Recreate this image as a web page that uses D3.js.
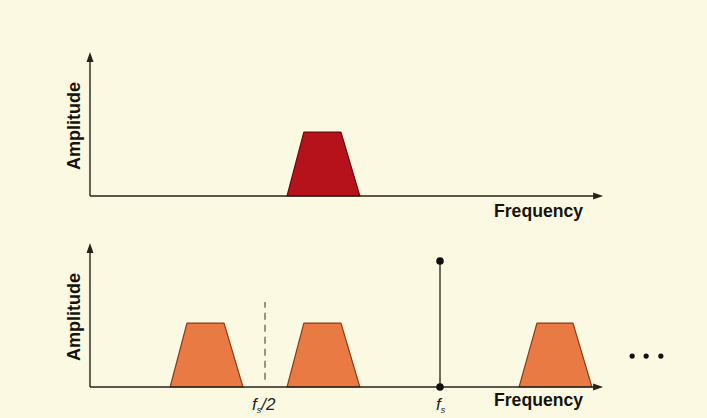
<!DOCTYPE html>
<html><head><meta charset="utf-8">
<script src="https://cdn.jsdelivr.net/npm/d3@7"></script>
<style>html,body{margin:0;padding:0;background:#fcf9e2;}svg{display:block;}</style>
</head><body><svg id="c" width="707" height="418"></svg>
<script>
// ---- data (frequency in units of fs, amplitude normalised 0..1) ----
const axisLabels = ["Amplitude", "Frequency"];
const tickLabels = ["f_s/2", "f_s"];
const tickFreqs = [0.5, 1.0];
// trapezoid bands: [bottom-left, top-left, top-right, bottom-right]
const originalBand = [0.563, 0.611, 0.717, 0.771];
const sampledBands = [
  [0.229, 0.277, 0.383, 0.437],
  [0.563, 0.611, 0.717, 0.771],
  [1.226, 1.277, 1.380, 1.434]
];
const bandAmplitude = 0.444;
const samplingAmplitude = 0.875;
const nyquistLine = [0.05, 0.59];
const ellipsisFreqs = [1.549, 1.589, 1.631];
const ellipsisAmplitude = 0.215;

const svg = d3.select("#c");
const x = d3.scaleLinear().domain([0, 1]).range([90, 440]);
const xMax = 1.466;
const panels = [
  {y: d3.scaleLinear().domain([0, 1]).range([196, 52]), bands: [originalBand], fill: "#b5121b", stroke: "#6e0a0c"},
  {y: d3.scaleLinear().domain([0, 1]).range([387, 243]), bands: sampledBands, fill: "#e97a43", stroke: "#8c3b18"}
];
const ink = "#252318";
const font = "'Liberation Sans Narrow','Arial Narrow','Liberation Sans',sans-serif";

panels.forEach((p, i) => {
  const g = svg.append("g");
  const x0 = x(0), y0 = p.y(0);
  // bands
  g.selectAll("path.band").data(p.bands).join("path")
    .attr("class", "band")
    .attr("d", b => d3.line()([[x(b[0]), y0], [x(b[1]), p.y(bandAmplitude)], [x(b[2]), p.y(bandAmplitude)], [x(b[3]), y0]]) + "Z")
    .attr("fill", p.fill).attr("stroke", p.stroke).attr("stroke-width", 1.2).attr("stroke-linejoin", "round");
  // axes
  g.append("line").attr("x1", x0).attr("y1", y0).attr("x2", x0).attr("y2", p.y(1) + 6)
    .attr("stroke", ink).attr("stroke-width", 1.4);
  g.append("path").attr("d", `M${x0},${p.y(1)} L${x0-3.5},${p.y(1)+10} L${x0+3.5},${p.y(1)+10}Z`).attr("fill", ink);
  g.append("line").attr("x1", x0).attr("y1", y0).attr("x2", x(xMax) - 6).attr("y2", y0)
    .attr("stroke", ink).attr("stroke-width", 1.4);
  g.append("path").attr("d", `M${x(xMax)},${y0} L${x(xMax)-10},${y0-3.5} L${x(xMax)-10},${y0+3.5}Z`).attr("fill", ink);
  // labels
  g.append("text").attr("transform", `translate(80,${(p.y(0)+p.y(1))/2 + 2}) rotate(-90)`)
    .attr("text-anchor", "middle").attr("font-family", font).attr("font-weight", "bold")
    .attr("font-size", 18).attr("fill", "#151410")
    .attr("textLength", 88).attr("lengthAdjust", "spacingAndGlyphs").text(axisLabels[0]);
  g.append("text").attr("x", 494).attr("y", y0 + (i === 0 ? 21 : 19))
    .attr("font-family", font).attr("font-weight", "bold").attr("font-size", i === 0 ? 18 : 19)
    .attr("fill", "#151410").attr("textLength", 89).attr("lengthAdjust", "spacingAndGlyphs").text(axisLabels[1]);
});

// bottom panel extras
const yb = panels[1].y;
svg.append("line").attr("x1", x(tickFreqs[0])).attr("x2", x(tickFreqs[0]))
  .attr("y1", yb(nyquistLine[0])).attr("y2", yb(nyquistLine[1]))
  .attr("stroke", "#555040").attr("stroke-width", 1.2).attr("stroke-dasharray", "7,5");
svg.append("line").attr("x1", x(tickFreqs[1])).attr("x2", x(tickFreqs[1]))
  .attr("y1", yb(0)).attr("y2", yb(samplingAmplitude)).attr("stroke", ink).attr("stroke-width", 1.3);
svg.selectAll("circle.fs").data([0, samplingAmplitude]).join("circle")
  .attr("cx", x(tickFreqs[1])).attr("cy", d => yb(d)).attr("r", 3.8).attr("fill", "#111");
svg.selectAll("circle.dots").data(ellipsisFreqs).join("circle")
  .attr("cx", d => x(d)).attr("cy", yb(ellipsisAmplitude)).attr("r", 2.6).attr("fill", "#111");

// tick labels f_s/2 and f_s
tickLabels.forEach((t, i) => {
  const tx = svg.append("text").attr("x", x(tickFreqs[i]) + (i === 0 ? -13 : -4)).attr("y", 410)
    .attr("font-family", font).attr("font-style", "italic").attr("font-size", 17).attr("fill", "#222");
  tx.append("tspan").text("f");
  tx.append("tspan").attr("font-size", 9).attr("dy", 3).text("s");
  if (i === 0) tx.append("tspan").attr("dy", -3).text("/2");
});
</script></body></html>
